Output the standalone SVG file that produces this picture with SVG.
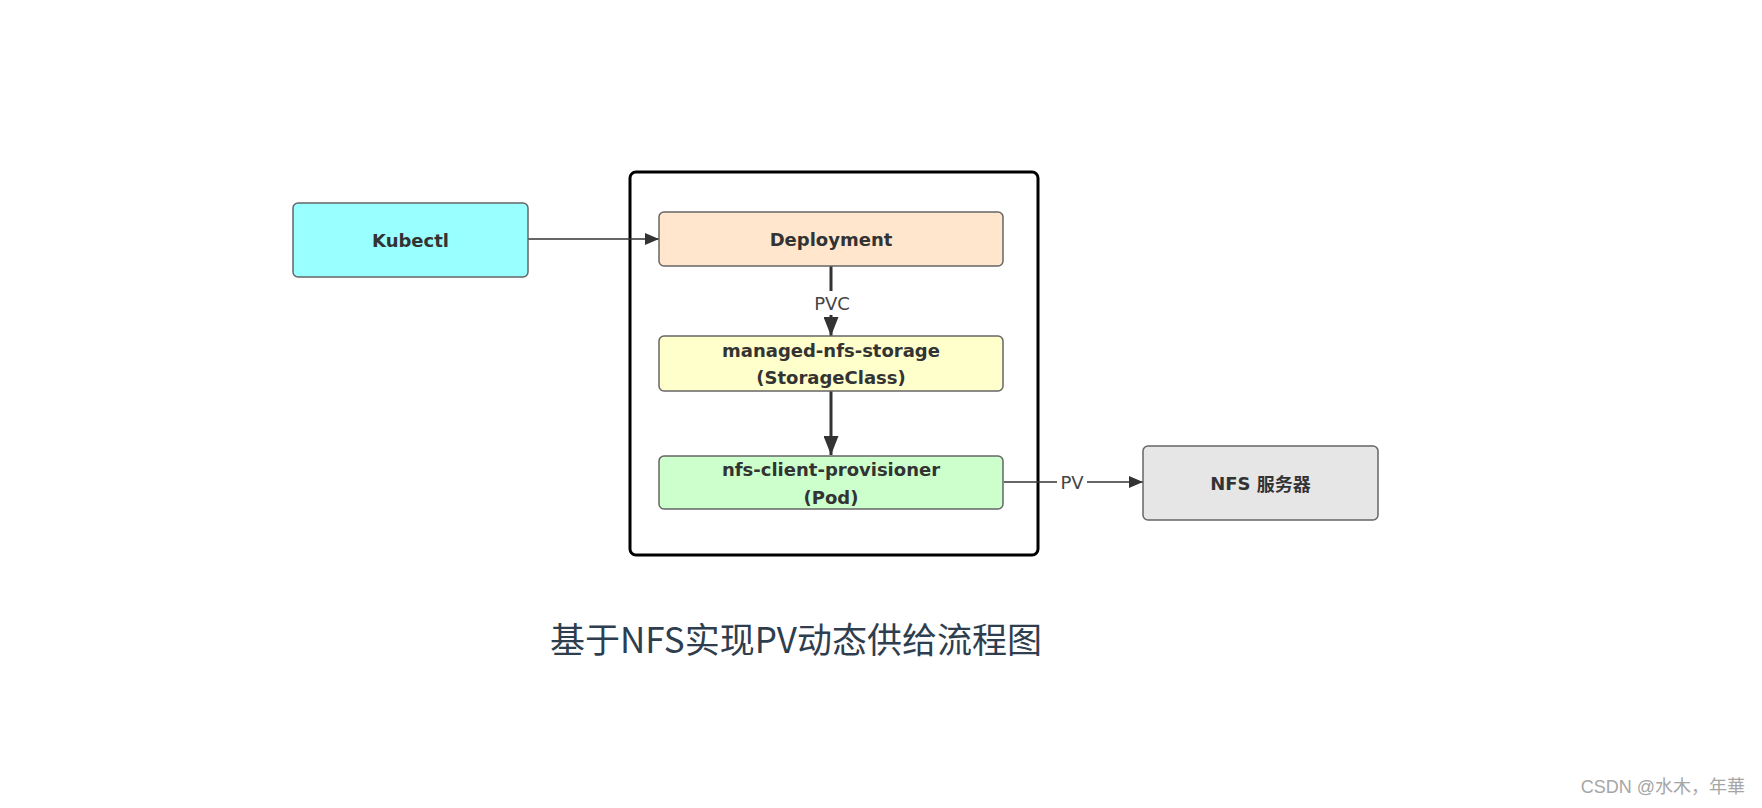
<svg xmlns="http://www.w3.org/2000/svg" width="1762" height="808" viewBox="0 0 1762 808">
  <style>
    .box { stroke: #666666; stroke-width: 1.5; }
    .lbl { font-family: "DejaVu Sans", Verdana, sans-serif; font-weight: bold; font-size: 18px; fill: #333333; text-anchor: middle; dominant-baseline: central; }
    .elbl { font-family: "DejaVu Sans", Verdana, sans-serif; font-size: 18px; fill: #444444; text-anchor: middle; dominant-baseline: central; }
    .thin { stroke: #333333; stroke-width: 1.5; fill: none; }
    .thick { stroke: #333333; stroke-width: 3; fill: none; }
  </style>
  <defs>
    <marker id="arrSmall" markerUnits="userSpaceOnUse" markerWidth="14" markerHeight="12" viewBox="0 0 14 12" refX="14" refY="6" orient="auto">
      <path d="M0,0 L14,6 L0,12 Z" fill="#333333"/>
    </marker>
    <marker id="arrBig" markerUnits="userSpaceOnUse" markerWidth="19" markerHeight="15" viewBox="0 0 19 15" refX="19" refY="7.5" orient="auto">
      <path d="M0,0 L19,7.5 L0,15 Z" fill="#333333"/>
    </marker>
  </defs>
  <rect width="1762" height="808" fill="#ffffff"/>

  <g id="container">
    <rect x="630" y="172" width="408" height="383" rx="6" fill="none" stroke="#000000" stroke-width="3"/>
  </g>

  <g id="connectors">
    <line class="thin" x1="528" y1="239" x2="659" y2="239" marker-end="url(#arrSmall)"/>
    <line class="thick" x1="831" y1="266" x2="831" y2="336" marker-end="url(#arrBig)"/>
    <rect x="812" y="291" width="40" height="24" fill="#ffffff"/>
    <text class="elbl" x="832" y="303">PVC</text>
    <line class="thick" x1="831" y1="391" x2="831" y2="455" marker-end="url(#arrBig)"/>
    <line class="thin" x1="1004" y1="482" x2="1143" y2="482" marker-end="url(#arrSmall)"/>
    <rect x="1057" y="470" width="30" height="24" fill="#ffffff"/>
    <text class="elbl" x="1072" y="482">PV</text>
  </g>

  <g id="kubectl">
    <rect class="box" x="293" y="203" width="235" height="74" rx="5" fill="#99ffff"/>
    <text class="lbl" x="410.5" y="240">Kubectl</text>
  </g>

  <g id="deployment">
    <rect class="box" x="659" y="212" width="344" height="54" rx="5" fill="#ffe6cc"/>
    <text class="lbl" x="831" y="239">Deployment</text>
  </g>

  <g id="storageclass">
    <rect class="box" x="659" y="336" width="344" height="55" rx="5" fill="#ffffcc"/>
    <text class="lbl" x="831" y="350">managed-nfs-storage</text>
    <text class="lbl" x="831" y="377">(StorageClass)</text>
  </g>

  <g id="provisioner">
    <rect class="box" x="659" y="456" width="344" height="53" rx="5" fill="#ccffcc"/>
    <text class="lbl" x="831" y="469">nfs-client-provisioner</text>
    <text class="lbl" x="831" y="497">(Pod)</text>
  </g>

  <g id="nfs-server">
    <rect class="box" x="1143" y="446" width="235" height="74" rx="5" fill="#e6e6e6"/>
    <text class="lbl" x="1260.5" y="483">NFS <tspan font-family="'Noto Sans CJK SC', sans-serif">服务器</tspan></text>
  </g>

  <g id="title">
    <text x="796" y="637" font-family="'Noto Sans CJK SC', 'Noto Sans', sans-serif" font-size="35" fill="#2f3e4e" text-anchor="middle" dominant-baseline="central">基于NFS实现PV动态供给流程图</text>
  </g>

  <g id="watermark">
    <text x="1745" y="787" font-family="'Liberation Sans', 'Noto Sans CJK SC', sans-serif" font-size="18" fill="#a6a6a6" text-anchor="end" dominant-baseline="central">CSDN @水木，年華</text>
  </g>
</svg>
